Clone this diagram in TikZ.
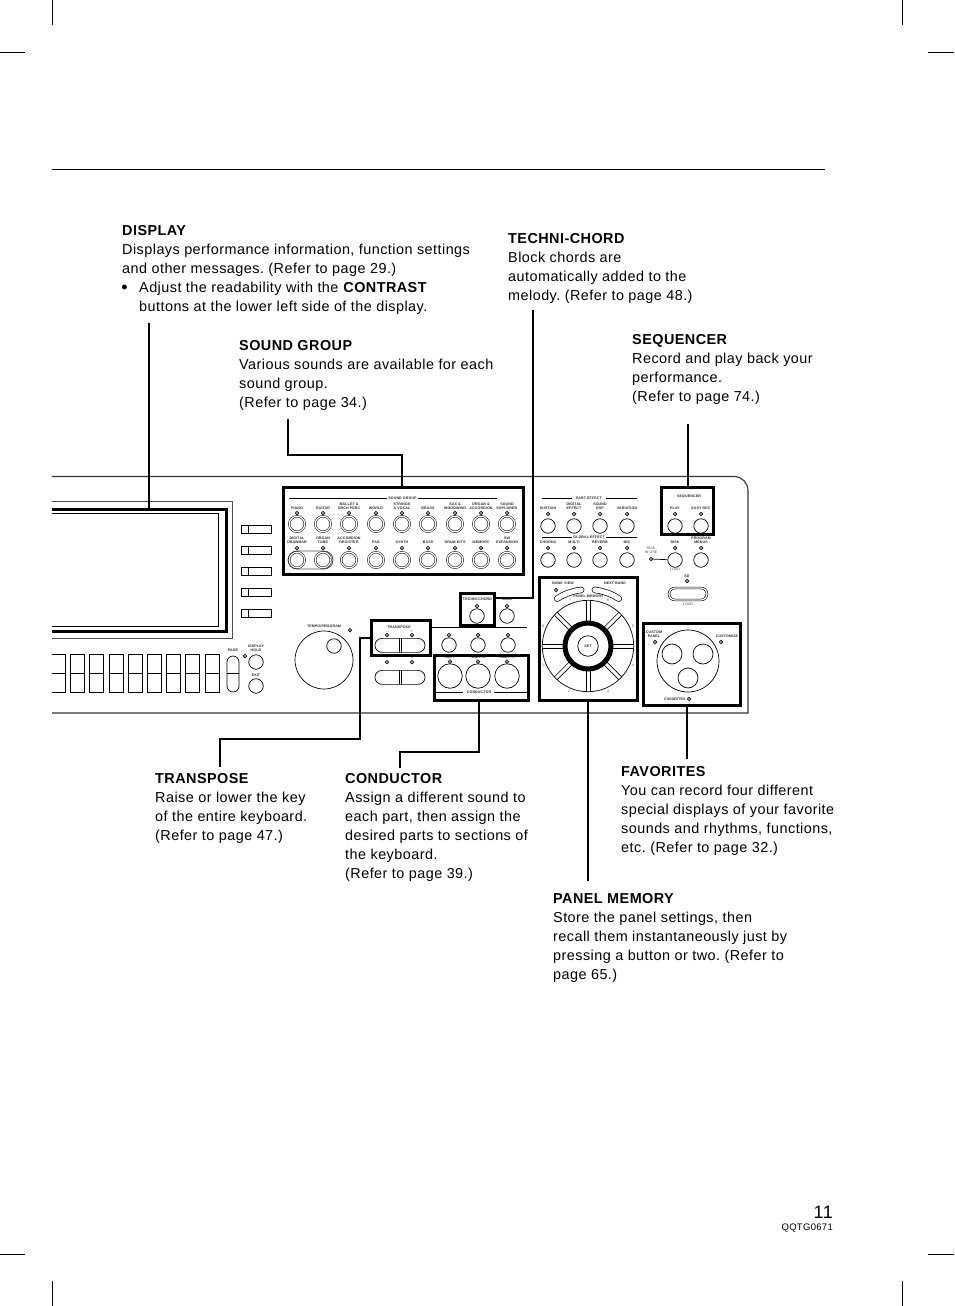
\documentclass[tikz,border=0pt]{standalone}
\usepackage{fontspec}
\setmainfont{Liberation Sans}[LetterSpace=3.2]
\frenchspacing
\usetikzlibrary{shapes.geometric, positioning, calc}
\tikzset{
  hibox/.style={draw, line width=3pt, inner sep=0pt},
  leader/.style={draw, line width=1.1pt},
  lab/.style={font=\fontsize{3.6}{4.2}\selectfont\bfseries, inner sep=0pt, align=center, text=black!85},
  greylab/.style={font=\fontsize{3.6}{4.2}\selectfont, inner sep=0pt, align=center, text=black!70},
  led/.style={diamond, draw, fill=black!40, line width=0.5pt, inner sep=0pt, minimum size=4pt},
  btn/.style={circle, draw, fill=white, line width=0.7pt, inner sep=0pt, minimum size=14.5pt},
  grpbtn/.style={btn, line width=0.5pt, double, double distance=1.2pt, minimum size=15.5pt},
  txt/.style={anchor=north west, inner sep=0pt, align=left, font=\fontsize{14.4}{19}\selectfont}
}
\newcommand{\hd}[1]{\textbf{#1}}
\newcommand{\bigbullet}{\makebox[17pt][l]{\hspace{-0.8pt}\fontsize{18}{19}\selectfont\raisebox{-1pt}{\textbullet}}}
\begin{document}
\begin{tikzpicture}[x=1pt,y=-1pt]
\useasboundingbox (0,0) rectangle (954,1306);
\foreach \x in {52,902} {
    \draw[line width=0.8pt] (\x,0) -- (\x,25);
    \draw[line width=0.8pt] (\x,1281) -- (\x,1306);
}
\foreach \y in {52,1254} {
    \draw[line width=0.8pt] (0,\y) -- (25,\y);
    \draw[line width=0.8pt] (928,\y) -- (954,\y);
}
\draw[line width=1pt] (52,169.5) -- (825,169.5);
\node[txt] (displaytxt) at (122,225) {\hd{DISPLAY}\\Displays performance information, function settings\\and other messages. (Refer to page 29.)\\\bigbullet Adjust the readability with the \hd{CONTRAST}\\\hspace{17pt}buttons at the lower left side of the display.};
\node[txt] (soundtxt) at (239,340) {\hd{SOUND GROUP}\\Various sounds are available for each\\sound group.\\(Refer to page 34.)};
\node[txt] (technitxt) at (508,233) {\hd{TECHNI-CHORD}\\Block chords are\\automatically added to the\\melody. (Refer to page 48.)};
\node[txt] (seqtxt) at (632,334) {\hd{SEQUENCER}\\Record and play back your\\performance.\\(Refer to page 74.)};
\node[txt] (transtxt) at (155,773) {\hd{TRANSPOSE}\\Raise or lower the key\\of the entire keyboard.\\(Refer to page 47.)};
\node[txt] (condtxt) at (345,773) {\hd{CONDUCTOR}\\Assign a different sound to\\each part, then assign the\\desired parts to sections of\\the keyboard.\\(Refer to page 39.)};
\node[txt] (favtxt) at (621,766) {\hd{FAVORITES}\\You can record four different\\special displays of your favorite\\sounds and rhythms, functions,\\etc. (Refer to page 32.)};
\node[txt] (memtxt) at (553,893) {\hd{PANEL MEMORY}\\Store the panel settings, then\\recall them instantaneously just by\\pressing a button or two. (Refer to\\page 65.)};
\node[anchor=east, inner sep=0pt, font=\fontsize{18}{20}\selectfont] (pagenum) at (833,1212) {11};
\node[anchor=east, inner sep=0pt, font=\fontsize{9.5}{11}\selectfont] (pagecode) at (833,1228) {QQTG0671};
\draw[line width=1.1pt, black!80, rounded corners=14pt] (52,476.5) -- (748,476.5) [sharp corners] -- (748,713) -- (52,713);
\draw[line width=0.6pt, black!70] (52,501) -- (232,501) -- (232,638) -- (52,638);
\draw[line width=3pt] (52,509) -- (226,509) -- (226,631) -- (52,631);
\draw[line width=0.7pt] (52,513) -- (218,513) -- (218,626) -- (52,626);
\foreach \y in {525,546,567,588,609} {
    \draw[line width=0.7pt] (241,\y) rectangle (271,\y+8);
    \draw[line width=0.7pt] (248,\y) -- (248,\y+8);
}
\draw[line width=0.7pt] (52,654) -- (65,654) -- (65,692) -- (52,692);
\draw[line width=0.7pt] (52,673) -- (65,673);
\foreach \x in {70,89,109,128,147,166,185,205} {
    \draw[line width=0.7pt] (\x,654) rectangle (\x+14,692);
    \draw[line width=0.7pt] (\x,673) -- (\x+14,673);
}
\draw[line width=0.7pt, rounded corners=6pt] (227,656) rectangle (239,692);
\draw[line width=0.7pt] (227,673) -- (239,673);
\node[lab] (pagelab) at (233,650.5) {PAGE};
\node[led] (pageled) at (245,656) {};
\node[lab, anchor=south] (holdlab) at (256,652) {DISPLAY\\HOLD};
\node[btn] (hold) at (256,662) {};
\node[lab] (exitlab) at (256,675) {EXIT};
\node[btn] (exit) at (256,686) {};
\draw[line width=0.7pt] (289,498) -- (387,498) (418,498) -- (497,498);
\node[lab] (grouplab) at (402.5,498) {SOUND GROUP};
\draw[line width=0.8pt, black!70, rounded corners=9pt] (288,551) rectangle (333,569);
\foreach \x/\n/\t in {297/a/PIANO,323/b/GUITAR,349/c/{MALLET \&\\ORCH PERC},376/d/WORLD,402/e/{STRINGS\\\& VOCAL},428/f/BRASS,455/g/{SAX \&\\WOODWIND},481/h/{ORGAN \&\\ACCORDION},507/i/{SOUND\\EXPLORER}} {
    \node[lab, anchor=south] (toplab\n) at (\x,509.5) {\t};
    \node[led] (topled\n) at (\x,513) {};
    \node[grpbtn] (top\n) at (\x,524) {};
}
\foreach \x/\n/\t in {297/a/{DIGITAL\\DRAWBAR},323/b/{ORGAN\\TUBE},349/c/{ACCORDION\\REGISTER},376/d/PAD,402/e/SYNTH,428/f/BASS,455/g/{DRUM KITS},481/h/MEMORY,507/i/{SW\\EXPANSION}} {
    \node[lab, anchor=south] (lowlab\n) at (\x,544) {\t};
    \node[led] (lowled\n) at (\x,548) {};
    \node[grpbtn] (low\n) at (\x,560) {};
}
\node[hibox, minimum width=240pt, minimum height=87pt] (soundbox) at (403.5,531) {};
\draw[line width=0.7pt] (542,498) -- (572,498) (606,498) -- (637,498);
\draw[line width=0.7pt] (542,537) -- (572,537) (606,537) -- (637,537);
\node[lab] (partlab) at (589,498) {PART EFFECT};
\node[lab] (globallab) at (589,537) {GLOBAL EFFECT};
\foreach \x/\n/\t in {548/a/SUSTAIN,574/b/{DIGITAL\\EFFECT},600/c/{SOUND\\DSP},627/d/VARIATION,675/e/PLAY,701/f/{EASY REC}} {
    \node[lab, anchor=south] (partlab\n) at (\x,509.5) {\t};
    \node[led] (partled\n) at (\x,514) {};
    \node[btn] (part\n) at (\x,526) {};
}
\foreach \x/\n/\t in {548/a/CHORUS,574/b/MULTI,600/c/REVERB,627/d/MIC,675/e/DISK,701/f/{PROGRAM\\MENUS}} {
    \node[lab, anchor=south] (effectlab\n) at (\x,544) {\t};
    \node[led] (effectled\n) at (\x,548) {};
    \node[btn] (effect\n) at (\x,560) {};
}
\node[lab] (seqlab) at (689,497) {SEQUENCER};
\node[hibox, minimum width=52pt, minimum height=47pt] (seqbox) at (687.5,511) {};
\node[greylab, anchor=south] (uselab) at (651,554) {DISK\\IN USE};
\node[led] (useled) at (651,559) {};
\draw[line width=0.7pt] (useled) -- (effecte);
\node[greylab] (loadlab) at (675,569.5) {LOAD};
\node[lab] (sdlab) at (687,576) {SD};
\node[led] (sdled) at (687,581) {};
\node[draw, fill=white, double, double distance=1.2pt, line width=0.6pt, rounded corners=6pt, minimum width=38pt, minimum height=12pt, inner sep=0pt] (sdbtn) at (688,594) {};
\node[greylab] (sdload) at (688,604) {LOAD};
\node[lab] (viewlab) at (563,583.5) {BANK VIEW};
\node[lab] (nextlab) at (615,583.5) {NEXT BANK};
\node[led] (viewled) at (556,590) {};
\coordinate (wheel) at (588,646);
\draw[line width=6.5pt, line cap=round] ($(wheel)+(97:56.5pt)$) arc (97:123:56.5pt);
\draw[line width=5.1pt, white, line cap=round] ($(wheel)+(97:56.5pt)$) arc (97:123:56.5pt);
\draw[line width=6.5pt, line cap=round] ($(wheel)+(83:56.5pt)$) arc (83:57:56.5pt);
\draw[line width=5.1pt, white, line cap=round] ($(wheel)+(83:56.5pt)$) arc (83:57:56.5pt);
\node[lab] (memlab) at (588.5,596) {PANEL MEMORY};
\draw[line width=0.7pt] (wheel) circle (45.7pt);
\foreach \a in {0,45,...,315} {
    \draw[line width=0.6pt] ($(wheel)+(\a:25pt)+(\a+90:2pt)$) -- ($(wheel)+(\a:45.7pt)+(\a+90:2pt)$);
    \draw[line width=0.6pt] ($(wheel)+(\a:25pt)+(\a-90:2pt)$) -- ($(wheel)+(\a:45.7pt)+(\a-90:2pt)$);
}
\draw[line width=5pt] (wheel) circle (23pt);
\node[circle, draw, line width=0.7pt, minimum size=20.5pt, inner sep=0pt, lab] (setbtn) at (wheel) {SET};
\foreach \x/\y/\t in {543/665/1,569/691/2,608/691/3,633/665/4,633/626/5,608/600/6,570/600/7,543/626/8} {
    \node[greylab] (num\t) at (\x,\y) {\t};
}
\node[hibox, minimum width=98pt, minimum height=123pt] (membox) at (588.5,639) {};
\draw[line width=0.7pt] (688,661) circle (31pt);
\node[btn, minimum size=20pt] (fava) at (672,654) {};
\node[btn, minimum size=20pt] (favb) at (703,654) {};
\node[btn, minimum size=20pt] (favc) at (688,678) {};
\node[lab] (customlab) at (654,634.5) {CUSTOM\\PANEL};
\node[led] (customled) at (655,642) {};
\node[lab] (customizelab) at (727,636) {CUSTOMIZE};
\node[led] (customizeled) at (721,642) {};
\node[lab] (favlab) at (675,699) {FAVORITES};
\node[led] (favled) at (689,699) {};
\node[hibox, minimum width=97pt, minimum height=82pt] (favbox) at (692,664.5) {};
\node[circle, draw, line width=0.7pt, minimum size=58pt, inner sep=0pt] (dial) at (324,660) {};
\node[btn] (dialbtn) at (334,646) {};
\node[lab] (tempolab) at (324,626.5) {TEMPO/PROGRAM};
\node[led] (tempoled) at (350,630) {};
\foreach \y/\n in {638/up,670/low} {
    \node[draw, line width=0.7pt, rounded corners=7pt, minimum width=50pt, minimum height=14pt, inner sep=0pt, anchor=north] (rock\n) at (400,\y) {};
    \draw[line width=0.7pt] (399,\y) -- (399,\y+14) (401.5,\y) -- (401.5,\y+14);
}
\node[lab] (translab) at (399,627) {TRANSPOSE};
\foreach \x/\n/\t in {387/a/--,412/b/+} {
    \node[greylab] (minus\n) at (\x,631.5) {\t};
    \node[led] (transled\n) at (\x,635) {};
    \node[greylab] (lowmark\n) at (\x,658) {\t};
    \node[led] (lowledr\n) at (\x,662) {};
}
\node[hibox, minimum width=59pt, minimum height=35pt] (transbox) at (401,638) {};
\draw[line width=0.7pt] (432,627) -- (527,627);
\node[lab] (technilab) at (477.5,599) {TECHNI-CHORD};
\node[led] (techniled) at (477,606) {};
\node[btn] (technibtn) at (477,616) {};
\node[led] (sololed) at (507,606) {};
\node[btn] (solobtn) at (507,616) {};
\node[hibox, minimum width=34pt, minimum height=32pt] (technibox) at (477.5,609.5) {};
\foreach \x/\n in {449/a,478/b,508/c} {
    \node[led] (midled\n) at (\x,635) {};
    \node[btn] (mid\n) at (\x,645) {};
}
\foreach \x/\n/\t in {450/a/LEFT,478/b/RIGHT 2,507/c/RIGHT 1} {
    \node[lab] (condlab\n) at (\x,657.5) {\t};
    \node[led] (condled\n) at (\x,661.5) {};
    \node[btn, minimum size=24.5pt] (cond\n) at (\x,676) {};
}
\draw[line width=0.7pt] (435,692) -- (463,692) (494,692) -- (527,692);
\node[lab] (conductorlab) at (479,692) {CONDUCTOR};
\node[hibox, minimum width=94pt, minimum height=45pt] (condbox) at (481.5,678) {};
\coordinate (displayend) at (149,323);
\coordinate (soundend) at (288,419);
\coordinate (soundbend) at (402,455);
\coordinate (techniend) at (533,310);
\coordinate (technibend) at (533,598);
\coordinate (seqend) at (688,424);
\coordinate (transend) at (220,767);
\coordinate (transbend) at (360,739);
\coordinate (condend) at (400,768);
\coordinate (condbend) at (479,752);
\coordinate (memend) at (588,881);
\coordinate (favend) at (687,759);
\draw[leader, line width=1.8pt] (displayend) -- (149,507.5);
\draw[leader] (soundend) |- (soundbend) -- (soundbox.north -| soundbend);
\draw[leader] (techniend) -- (technibend) -- (technibend -| technibox.east);
\node[lab] (sololab) at (507,599) {SOLO};
\draw[leader] (seqend) -- (seqbox.north -| seqend);
\draw[leader] (transend) |- (transbend) |- (transbox.west);
\draw[leader] (condend) |- (condbend) -- (condbox.south -| condbend);
\draw[leader, line width=1.8pt] (memend) -- (membox.south -| memend);
\draw[leader] (favend) -- (favbox.south -| favend);
\end{tikzpicture}
\end{document}
